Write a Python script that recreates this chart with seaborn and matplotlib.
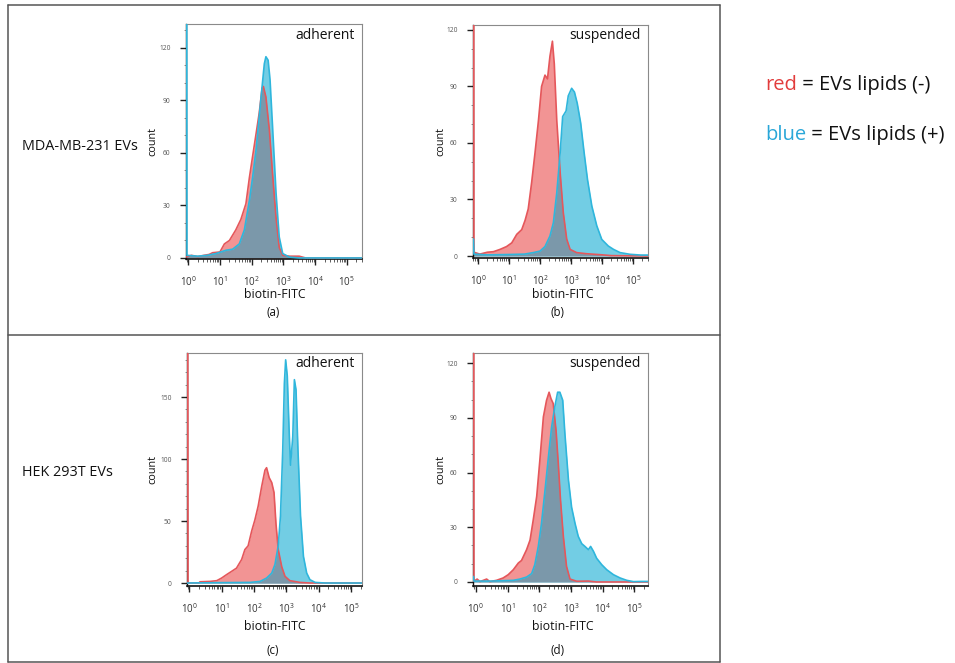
import numpy as np
import pandas as pd
import matplotlib
matplotlib.use("Agg")
import matplotlib.pyplot as plt
import seaborn as sns
from matplotlib.lines import Line2D
from matplotlib.ticker import FixedLocator, LogLocator, NullFormatter

# ---------------- data (x = log10 of biotin-FITC intensity, y = count) ----------------
a_red_logx = [-0.07, 0.1, 0.3, 0.5, 0.66, 0.77, 1.0, 1.14, 1.3, 1.5, 1.66, 1.82, 1.93, 2.03, 2.14,
              2.24, 2.33, 2.37, 2.45, 2.56, 2.66, 2.77, 2.87, 2.98, 3.2, 3.5, 3.7, 5.48]
a_red_cnt = [0.5, 1.5, 0.8, 1.5, 2, 3, 3.4, 8, 10, 16, 22, 31, 46, 58, 71,
             83, 97, 98, 92, 73, 48, 23, 6, 1.5, 1, 1, 0, 0]
a_blue_logx = [-0.055, -0.04, 0.3, 0.6, 0.87, 1.19, 1.4, 1.61, 1.77, 1.93, 2.03, 2.14, 2.24, 2.33, 2.4,
               2.45, 2.52, 2.58, 2.66, 2.77, 2.87, 2.98, 3.19, 3.5, 5.48]
a_blue_cnt = [400, 1.5, 1, 1.5, 2.5, 4.4, 5, 8, 16, 33, 46, 62, 81, 98, 111,
              115, 113, 102, 75, 37, 12, 2.5, 0.5, 0, 0]

b_red_logx = [-0.145, -0.13, 0.06, 0.3, 0.5, 0.71, 0.92, 1.09, 1.25, 1.41, 1.52, 1.62, 1.73, 1.84, 1.95,
              2.05, 2.16, 2.24, 2.32, 2.4, 2.46, 2.54, 2.65, 2.75, 2.86, 2.97, 3.18, 3.5, 3.94, 4.3, 5.48]
b_red_cnt = [400, 2, 1, 2, 2.3, 3.5, 5, 7, 11.5, 14, 19, 25, 39, 55, 72,
             90, 96, 94, 106, 114, 102, 72, 44, 23, 9, 3.5, 1.8, 1.2, 0.7, 0.2, 0]
b_blue_logx = [-0.145, -0.13, 0.3, 1.0, 1.5, 1.78, 2.0, 2.16, 2.32, 2.43, 2.54, 2.65, 2.73, 2.84, 2.91,
               3.02, 3.11, 3.2, 3.31, 3.42, 3.53, 3.67, 3.83, 3.99, 4.2, 4.37, 4.58, 4.9, 5.25, 5.48]
b_blue_cnt = [9, 1, 0.6, 0.8, 1, 1.8, 2.6, 5, 10.6, 17.6, 33.5, 55, 74, 77, 85,
              89, 87, 81, 70.6, 55, 40.6, 26.5, 16, 8.8, 5.3, 3.5, 1.8, 0.9, 0.5, 0.5]

c_red_logx = [-0.055, -0.04, 0.3, 0.33, 0.64, 0.85, 1.0, 1.15, 1.31, 1.46, 1.62, 1.72, 1.82, 1.93, 2.03,
              2.13, 2.24, 2.34, 2.39, 2.47, 2.55, 2.62, 2.68, 2.75, 2.86, 2.96, 3.11, 3.42, 3.73, 5.34]
c_red_cnt = [400, 0, 0, 1, 1.3, 1.9, 4, 6.7, 9.4, 12, 19, 27, 30, 42, 51,
             62, 78, 91, 93, 85, 81, 73, 48, 27, 13, 5.4, 1.9, 0.5, 0, 0]
c_blue_logx = [-0.07, 1.0, 1.88, 2.19, 2.39, 2.55, 2.65, 2.75, 2.82, 2.89, 2.94, 2.98, 3.03, 3.09, 3.13,
               3.2, 3.25, 3.3, 3.36, 3.44, 3.53, 3.63, 3.73, 3.89, 4.2, 5.34]
c_blue_cnt = [0, 0.3, 0.5, 1.3, 4, 8, 15, 30, 54, 107, 161, 180, 167, 121, 95,
              118, 164, 156, 107.5, 54, 21.5, 8, 2.7, 0.5, 0, 0]

d_red_logx = [-0.075, -0.06, 0.04, 0.13, 0.34, 0.44, 0.65, 0.86, 1.02, 1.18, 1.34, 1.44, 1.6, 1.71, 1.81,
              1.92, 2.02, 2.13, 2.23, 2.31, 2.37, 2.44, 2.53, 2.6, 2.67, 2.76, 2.86, 2.97, 3.18, 3.55, 3.8, 5.43]
d_red_cnt = [400, 0.4, 1.6, 0.2, 1.6, 0.2, 0.9, 2.2, 4, 6.7, 10.4, 11.8, 17.7, 23, 34,
             47, 67, 90.5, 99.6, 104, 100.5, 97.8, 83, 65, 45, 25, 8.6, 1.6, 0.4, 0.5, 0, 0]
d_blue_logx = [-0.075, -0.06, 0.5, 1.18, 1.39, 1.6, 1.76, 1.86, 1.97, 2.07, 2.18, 2.28, 2.39, 2.49, 2.58,
               2.65, 2.74, 2.81, 2.92, 3.02, 3.13, 3.23, 3.34, 3.44, 3.55, 3.62, 3.71, 3.81, 3.97, 4.13,
               4.34, 4.55, 4.76, 4.97, 5.2, 5.43]
d_blue_cnt = [3, 0.5, 0.5, 0.9, 1.6, 2.7, 4.6, 9.5, 19.5, 32, 50, 67, 85, 96, 104,
              104, 99.6, 81, 56, 41, 32, 25, 21, 19.5, 17.7, 19.5, 16.8, 13, 9.5, 6.7,
              4, 2.2, 0.9, 0.2, 0.3, 0.3]

panel_letters = ["(a)", "(b)", "(c)", "(d)"]
panel_titles = ["adherent", "suspended", "adherent", "suspended"]
row_labels = ["MDA-MB-231 EVs", "HEK 293T EVs"]
y_ticks = [[0, 30, 60, 90, 120], [0, 30, 60, 90, 120], [0, 50, 100, 150], [0, 30, 60, 90, 120]]
x_tick_exp = [0, 1, 2, 3, 4, 5]
series_names = ["EVs lipids (-)", "EVs lipids (+)"]

# ---------------- styling ----------------
sns.set_style("ticks")
plt.rcParams['font.family'] = ['Open Sans', 'DejaVu Sans']

RED_LINE, RED_FILL = "#e5575b", "#f29494"
BLUE_LINE, BLUE_FILL = "#2fb6dc", "#72cde4"
OVERLAP = "#7b98aa"

W, H = 955, 663
fig = plt.figure(figsize=(W / 100, H / 100), dpi=100)


def box(l, r, t, b):
    return [l / W, 1 - b / H, (r - l) / W, (b - t) / H]


panels = [
    dict(box=box(186, 362, 24, 259), xlim=(-0.07, 5.48), ylim=(-0.6, 133.7),
         red=(a_red_logx, a_red_cnt), blue=(a_blue_logx, a_blue_cnt), minor=10),
    dict(box=box(473, 648, 25, 258), xlim=(-0.16, 5.48), ylim=(-1.06, 122.6),
         red=(b_red_logx, b_red_cnt), blue=(b_blue_logx, b_blue_cnt), minor=10),
    dict(box=box(187, 362, 353, 586), xlim=(-0.07, 5.34), ylim=(-2.4, 185.5),
         red=(c_red_logx, c_red_cnt), blue=(c_blue_logx, c_blue_cnt), minor=10),
    dict(box=box(473, 648, 353, 586), xlim=(-0.09, 5.43), ylim=(-2.2, 125.5),
         red=(d_red_logx, d_red_cnt), blue=(d_blue_logx, d_blue_cnt), minor=10),
]

for i, p in enumerate(panels):
    ax = fig.add_axes(p["box"])
    ax.set_xscale("log")
    rl, rc = np.array(p["red"][0]), np.array(p["red"][1], float)
    bl, bc = np.array(p["blue"][0]), np.array(p["blue"][1], float)

    # fills
    ax.fill_between(10 ** rl, 0, rc, color=RED_FILL, lw=0, zorder=1)
    ax.fill_between(10 ** bl, 0, bc, color=BLUE_FILL, lw=0, zorder=1.1)
    g = np.union1d(np.union1d(rl, bl), np.linspace(min(rl[0], bl[0]), max(rl[-1], bl[-1]), 2500))
    ov = np.minimum(np.interp(g, rl, rc, left=0, right=0), np.interp(g, bl, bc, left=0, right=0))
    ax.fill_between(10 ** g, 0, ov, color=OVERLAP, lw=0, zorder=1.2)

    # lines via seaborn
    df = pd.concat([
        pd.DataFrame({"x": 10 ** rl, "count": rc, "series": series_names[0]}),
        pd.DataFrame({"x": 10 ** bl, "count": bc, "series": series_names[1]}),
    ])
    sns.lineplot(data=df, x="x", y="count", hue="series",
                 palette={series_names[0]: RED_LINE, series_names[1]: BLUE_LINE},
                 estimator=None, sort=False, legend=False, lw=1.2, ax=ax, zorder=3)

    ax.set_xlim(10 ** p["xlim"][0], 10 ** p["xlim"][1])
    ax.set_ylim(*p["ylim"])
    ax.set_xlabel("")
    ax.set_ylabel("")

    # ticks
    ax.xaxis.set_major_locator(FixedLocator([10.0 ** e for e in x_tick_exp]))
    ax.xaxis.set_minor_locator(LogLocator(base=10, subs=np.arange(2, 10)))
    ax.xaxis.set_minor_formatter(NullFormatter())
    ax.set_yticks(y_ticks[i])
    ax.yaxis.set_minor_locator(FixedLocator(np.arange(0, p["ylim"][1], p["minor"])))
    ax.tick_params(axis="x", which="major", length=4, width=1, pad=8, labelsize=7,
                   labelcolor="#333333", color="#222222")
    ax.tick_params(axis="x", which="minor", length=2, width=0.6, color="#444444")
    ax.tick_params(axis="y", which="major", length=4, width=1, pad=7, labelsize=4.8,
                   labelcolor="#555555", color="#222222")
    ax.tick_params(axis="y", which="minor", length=1.5, width=0.5, color="#777777")

    for s in ["top", "right"]:
        ax.spines[s].set_color("#8a8a8a")
        ax.spines[s].set_linewidth(0.8)
    ax.spines["bottom"].set_color("#111111")
    ax.spines["bottom"].set_linewidth(1.2)
    ax.spines["left"].set_color("#111111")
    ax.spines["left"].set_linewidth(1.0)

    ax.text(0.96, 0.985, panel_titles[i], transform=ax.transAxes, ha="right", va="top",
            fontsize=10, color="#111111")

# axis labels and panel letters (figure pixel positions)
for (cx, cy) in [(153, 141), (441, 141), (153, 469), (441, 469)]:
    fig.text(cx / W, 1 - cy / H, "count", rotation=90, ha="center", va="center", fontsize=7.8,
             color="#111111")
for (cx, cy) in [(275, 295), (563, 295), (275, 626), (563, 626)]:
    fig.text(cx / W, 1 - cy / H, "biotin-FITC", ha="center", va="center", fontsize=8.8,
             color="#111111")
for lab, (cx, cy) in zip(panel_letters, [(273, 313), (557, 313), (273, 650), (557, 650)]):
    fig.text(cx / W, 1 - cy / H, lab, ha="center", va="center", fontsize=8.3, color="#111111")

# row labels
fig.text(22 / W, 1 - 147 / H, row_labels[0], ha="left", va="center", fontsize=10.4, color="#111111")
fig.text(22 / W, 1 - 472 / H, row_labels[1], ha="left", va="center", fontsize=10.4, color="#111111")

# legend text (coloured key word followed by black text)
t1 = fig.text(765 / W, 1 - 85 / H, "red", ha="left", va="center", fontsize=14.5, color="#e23c3c")
plt.annotate(" = " + series_names[0], xy=(1, 0), xycoords=t1, ha="left", va="bottom",
             fontsize=14.5, color="#111111", annotation_clip=False)
t2 = fig.text(765 / W, 1 - 135 / H, "blue", ha="left", va="center", fontsize=14.5, color="#2aa7d8")
plt.annotate(" = " + series_names[1], xy=(1, 0), xycoords=t2, ha="left", va="bottom",
             fontsize=14.5, color="#111111", annotation_clip=False)

# outer frames
frame_col = "#555555"
for (x0, y0, x1, y1) in [(8, 5, 720, 5), (8, 5, 8, 662), (720, 5, 720, 662),
                         (8, 335, 720, 335), (8, 662, 720, 662)]:
    fig.add_artist(Line2D([x0 / W, x1 / W], [1 - y0 / H, 1 - y1 / H], color=frame_col, lw=1.1))

fig.savefig("out.png", dpi=100)
